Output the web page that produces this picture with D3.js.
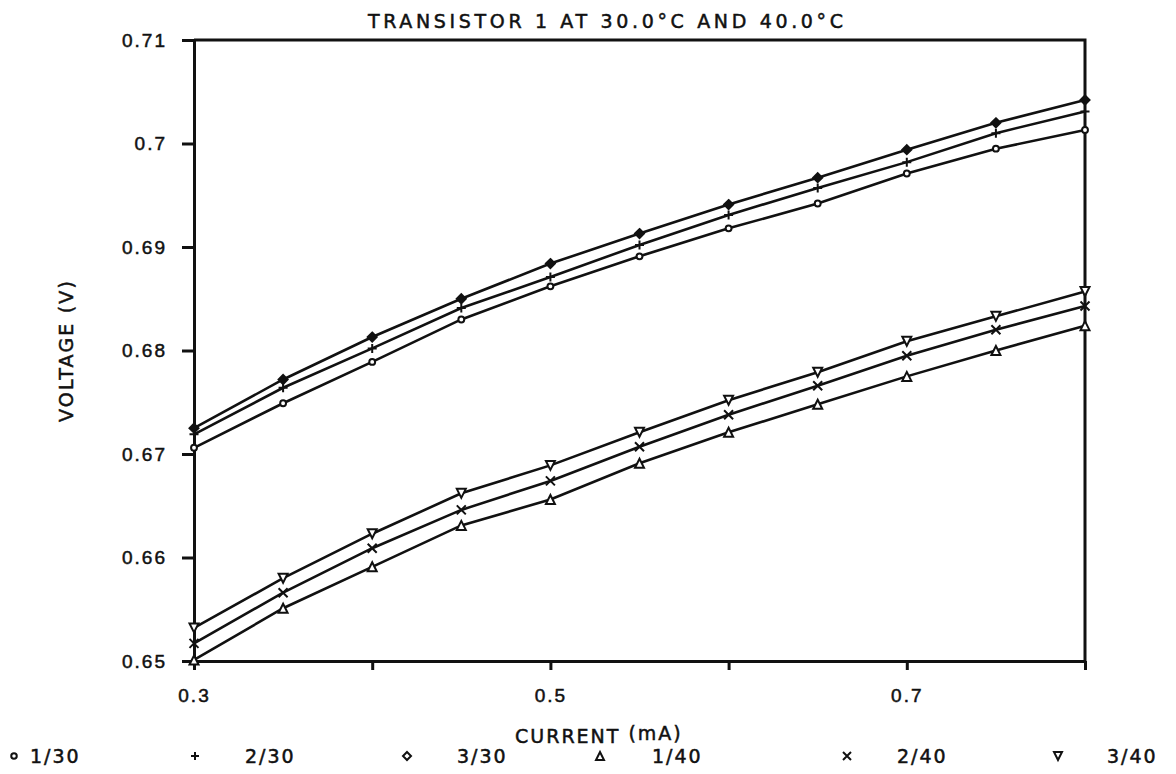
<!DOCTYPE html>
<html>
<head>
<meta charset="utf-8">
<script src="https://cdn.jsdelivr.net/npm/d3@7"></script>
<style>
  body { margin: 0; background: #fff; }
  svg { display: block; font-family: "DejaVu Sans", sans-serif; }
  .lbl { font-size: 19px; fill: #111; stroke: #111; stroke-width: 0.5px; letter-spacing: 2px; }
</style>
</head>
<body>
<div class="container"></div>
<script>
// DATA
const current = [0.30, 0.35, 0.40, 0.45, 0.50, 0.55, 0.60, 0.65, 0.70, 0.75, 0.80];

const v1_30 = [0.6706, 0.6749, 0.6789, 0.6830, 0.6862, 0.6891, 0.6918, 0.6942, 0.6971, 0.6995, 0.7013];
const v2_30 = [0.6719, 0.6764, 0.6802, 0.6841, 0.6871, 0.6902, 0.6931, 0.6957, 0.6982, 0.7010, 0.7031];
const v3_30 = [0.6725, 0.6772, 0.6813, 0.6850, 0.6884, 0.6913, 0.6941, 0.6967, 0.6994, 0.7020, 0.7042];
const v1_40 = [0.6501, 0.6551, 0.6591, 0.6631, 0.6656, 0.6691, 0.6721, 0.6748, 0.6775, 0.6800, 0.6824];
const v2_40 = [0.6517, 0.6566, 0.6609, 0.6646, 0.6674, 0.6707, 0.6738, 0.6766, 0.6795, 0.6820, 0.6843];
const v3_40 = [0.6532, 0.6580, 0.6623, 0.6662, 0.6689, 0.6721, 0.6752, 0.6779, 0.6809, 0.6833, 0.6857];

const seriesNames = ["1/30", "2/30", "3/30", "1/40", "2/40", "3/40"];
const seriesValues = [v1_30, v2_30, v3_30, v1_40, v2_40, v3_40];
const seriesMarks = ["circle", "plus", "diamond", "triangle", "cross", "down"];

const xTicks = [0.3, 0.4, 0.5, 0.6, 0.7, 0.8];
const xTickLabels = ["0.3", "", "0.5", "", "0.7", ""];
const yTicks = [0.65, 0.66, 0.67, 0.68, 0.69, 0.70, 0.71];
const yTickLabels = ["0.65", "0.66", "0.67", "0.68", "0.69", "0.7", "0.71"];

const title = "TRANSISTOR 1 AT 30.0°C AND 40.0°C";
const xTitle = "CURRENT";
const xUnit = "(mA)";
const yTitle = "VOLTAGE (V)";


// dimensions
const W = 1176, H = 774;
const margin = { top: 40, right: 91, bottom: 113, left: 194 };
const width = W - margin.left - margin.right;
const height = H - margin.top - margin.bottom;

const svg = d3.select('.container').append('svg')
    .attr('width', W)
    .attr('height', H);

const group = svg.append('g')
    .attr('transform', `translate(${margin.left}, ${margin.top})`);


// scales
const xScale = d3.scaleLinear().domain([0.3, 0.8]).range([0, width]);
const yScale = d3.scaleLinear().domain([0.65, 0.71]).range([height, 0]);


// axes
const xAxis = d3.axisBottom(xScale)
    .tickValues(xTicks)
    .tickSize(9)
    .tickSizeOuter(0)
    .tickFormat((d, i) => xTickLabels[i]);

const yAxis = d3.axisLeft(yScale)
    .tickValues(yTicks)
    .tickSize(12)
    .tickSizeOuter(0)
    .tickFormat((d, i) => yTickLabels[i]);

const gx = group.append('g')
    .attr('transform', `translate(0, ${height})`)
    .call(xAxis);

const gy = group.append('g').call(yAxis);

[gx, gy].forEach(g => {
    g.selectAll('path, line').attr('stroke', '#111').attr('stroke-width', 3);
    g.selectAll('text').attr('class', 'lbl').attr('fill', '#111');
});
gx.selectAll('text').attr('dy', '1.5em');
gy.selectAll('text').attr('x', -27);

// frame (top and right)
group.append('path')
    .attr('d', `M0,0H${width}V${height}`)
    .attr('fill', 'none')
    .attr('stroke', '#111')
    .attr('stroke-width', 3);


// marker shapes
const symbolPath = (kind, s) => {
    if (kind === 'circle') return d3.symbol(d3.symbolCircle, s * 3)();
    if (kind === 'plus') return `M${-s/2},0H${s/2}M0,${-s/2}V${s/2}`;
    if (kind === 'cross') return `M${-s/2},${-s/2}L${s/2},${s/2}M${s/2},${-s/2}L${-s/2},${s/2}`;
    if (kind === 'diamond') return `M0,${-s/2}L${s/2},0L0,${s/2}L${-s/2},0Z`;
    if (kind === 'triangle') return `M0,${-s/2}L${s/2},${s/2}L${-s/2},${s/2}Z`;
    if (kind === 'down') return `M${-s/2},${-s/2}L${s/2},${-s/2}L0,${s/2}Z`;
};


// lines
const line = d3.line()
    .x((d, i) => xScale(current[i]))
    .y(d => yScale(d));

seriesValues.forEach((vals, k) => {
    group.append('path')
        .datum(vals)
        .attr('d', line)
        .attr('fill', 'none')
        .attr('stroke', '#111')
        .attr('stroke-width', 2.6);

    group.selectAll(`.m${k}`)
        .data(vals)
        .enter()
        .append('path')
        .attr('class', `m${k}`)
        .attr('transform', (d, i) => `translate(${xScale(current[i])}, ${yScale(d)})`)
        .attr('d', symbolPath(seriesMarks[k], 9))
        .attr('fill', seriesMarks[k] === 'diamond' ? '#111' : '#fff')
        .attr('stroke', '#111')
        .attr('stroke-width', 2);
});


// titles
svg.append('text')
    .attr('class', 'lbl')
    .attr('x', 368).attr('y', 28)
    .attr('textLength', 477)
    .attr('lengthAdjust', 'spacing')
    .text(title);

svg.append('text')
    .attr('class', 'lbl')
    .attr('transform', `translate(73, ${margin.top + height / 2}) rotate(-90)`)
    .attr('text-anchor', 'middle')
    .attr('textLength', 143)
    .attr('lengthAdjust', 'spacing')
    .text(yTitle);

const xt = svg.append('text')
    .attr('class', 'lbl')
    .attr('x', 515).attr('y', 743);
xt.append('tspan').text(xTitle);
xt.append('tspan').attr('dx', 8).attr('dy', -3).text(xUnit);


// LEGEND
const legendX = [[14, 30], [195, 245], [407, 457], [600, 652], [847, 897], [1058, 1107]];
const legend = svg.append('g');

seriesNames.forEach((name, k) => {
    legend.append('path')
        .attr('transform', `translate(${legendX[k][0]}, 756)`)
        .attr('d', symbolPath(seriesMarks[k], 8))
        .attr('fill', '#fff')
        .attr('stroke', '#111')
        .attr('stroke-width', 2);
    legend.append('text')
        .attr('class', 'lbl')
        .attr('x', legendX[k][1]).attr('y', 763)
        .text(name);
});
</script>
</body>
</html>
